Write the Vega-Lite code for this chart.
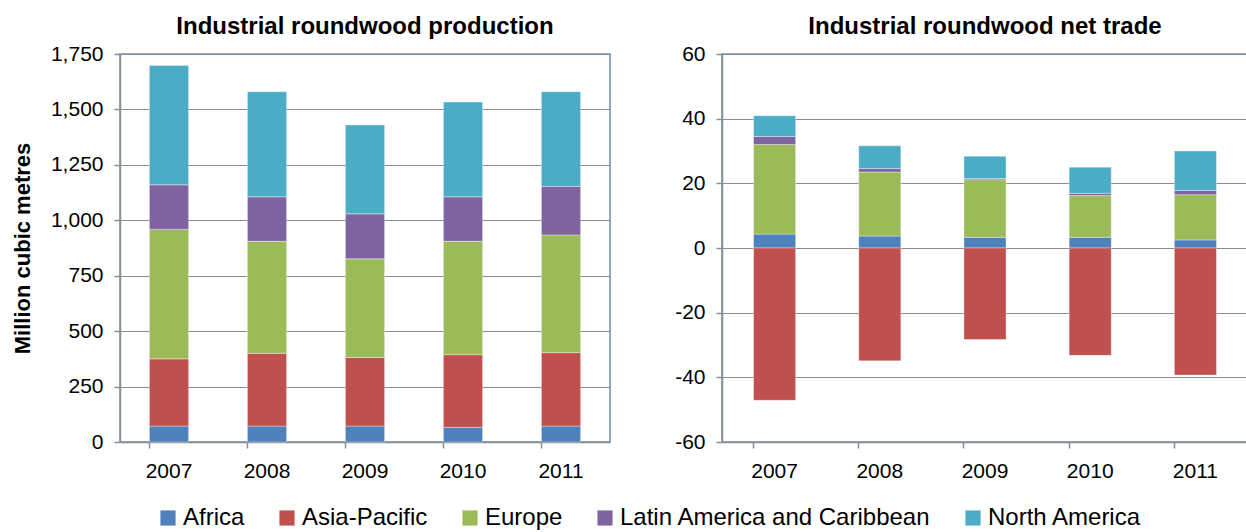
{
  "$schema": "https://vega.github.io/schema/vega-lite/v6.json",
  "background": "white",
  "padding": {"left": 10, "top": 14, "right": 0, "bottom": 0},
  "spacing": 62,
  "datasets": {
    "prod": [
      {"year": "2007", "region": "Africa", "value": 72},
      {"year": "2007", "region": "Asia-Pacific", "value": 303},
      {"year": "2007", "region": "Europe", "value": 584},
      {"year": "2007", "region": "Latin America and Caribbean", "value": 201},
      {"year": "2007", "region": "North America", "value": 538},
      {"year": "2008", "region": "Africa", "value": 72},
      {"year": "2008", "region": "Asia-Pacific", "value": 328},
      {"year": "2008", "region": "Europe", "value": 505},
      {"year": "2008", "region": "Latin America and Caribbean", "value": 201},
      {"year": "2008", "region": "North America", "value": 474},
      {"year": "2009", "region": "Africa", "value": 72},
      {"year": "2009", "region": "Asia-Pacific", "value": 309},
      {"year": "2009", "region": "Europe", "value": 445},
      {"year": "2009", "region": "Latin America and Caribbean", "value": 203},
      {"year": "2009", "region": "North America", "value": 401},
      {"year": "2010", "region": "Africa", "value": 66},
      {"year": "2010", "region": "Asia-Pacific", "value": 328},
      {"year": "2010", "region": "Europe", "value": 511},
      {"year": "2010", "region": "Latin America and Caribbean", "value": 201},
      {"year": "2010", "region": "North America", "value": 427},
      {"year": "2011", "region": "Africa", "value": 72},
      {"year": "2011", "region": "Asia-Pacific", "value": 331},
      {"year": "2011", "region": "Europe", "value": 531},
      {"year": "2011", "region": "Latin America and Caribbean", "value": 219},
      {"year": "2011", "region": "North America", "value": 427}
    ],
    "trade": [
      {"year": "2007", "region": "Africa", "value": 4.3},
      {"year": "2007", "region": "Asia-Pacific", "value": -47.1},
      {"year": "2007", "region": "Europe", "value": 27.7},
      {"year": "2007", "region": "Latin America and Caribbean", "value": 2.5},
      {"year": "2007", "region": "North America", "value": 6.4},
      {"year": "2008", "region": "Africa", "value": 3.7},
      {"year": "2008", "region": "Asia-Pacific", "value": -34.9},
      {"year": "2008", "region": "Europe", "value": 19.8},
      {"year": "2008", "region": "Latin America and Caribbean", "value": 1.1},
      {"year": "2008", "region": "North America", "value": 7.0},
      {"year": "2009", "region": "Africa", "value": 3.3},
      {"year": "2009", "region": "Asia-Pacific", "value": -28.3},
      {"year": "2009", "region": "Europe", "value": 17.8},
      {"year": "2009", "region": "Latin America and Caribbean", "value": 0.4},
      {"year": "2009", "region": "North America", "value": 6.9},
      {"year": "2010", "region": "Africa", "value": 3.3},
      {"year": "2010", "region": "Asia-Pacific", "value": -33.2},
      {"year": "2010", "region": "Europe", "value": 12.9},
      {"year": "2010", "region": "Latin America and Caribbean", "value": 0.7},
      {"year": "2010", "region": "North America", "value": 8.1},
      {"year": "2011", "region": "Africa", "value": 2.5},
      {"year": "2011", "region": "Asia-Pacific", "value": -39.3},
      {"year": "2011", "region": "Europe", "value": 14.0},
      {"year": "2011", "region": "Latin America and Caribbean", "value": 1.3},
      {"year": "2011", "region": "North America", "value": 12.2}
    ]
  },
  "config": {
    "font": "Liberation Sans",
    "view": {"stroke": "#6E8DB8", "strokeWidth": 1.5},
    "title": {"fontSize": 24, "fontWeight": "bold", "color": "black", "offset": 4, "anchor": "middle"},
    "axis": {
      "labelFont": "Liberation Sans", "labelFontSize": 21, "labelColor": "black",
      "titleFont": "Liberation Sans", "titleFontSize": 22, "titleFontWeight": "bold", "titleColor": "black",
      "domainColor": "#868E96", "domainWidth": 1.5, "tickColor": "#868E96", "tickWidth": 1.5, "tickSize": 6,
      "gridColor": "#8C8C8C", "gridWidth": 1.2, "labelPadding": 11
    },
    "legend": {
      "orient": "none", "legendX": 36, "legendY": 452, "direction": "horizontal", "title": null,
      "labelFont": "Liberation Sans", "labelFontSize": 24, "labelColor": "black",
      "symbolType": "square", "symbolSize": 230, "symbolStrokeWidth": 0,
      "columnPadding": 30, "labelOffset": 3, "labelLimit": 500
    }
  },
  "resolve": {"scale": {"color": "shared"}},
  "hconcat": [
    {
      "title": "Industrial roundwood production",
      "width": 490, "height": 388,
      "data": {"name": "prod"},
      "mark": {"type": "bar", "stroke": "white", "strokeWidth": 0.6, "strokeOpacity": 0.6},
      "encoding": {
        "x": {"field": "year", "type": "nominal", "title": null,
              "scale": {"paddingInner": 0.6, "paddingOuter": 0.3},
              "axis": {"labelAngle": 0, "bandPosition": 0, "grid": false, "labelPadding": 12}},
        "y": {"field": "value", "type": "quantitative", "aggregate": "sum", "stack": "zero",
              "title": "Million cubic metres",
              "scale": {"domain": [0, 1750], "nice": false},
              "axis": {"values": [0, 250, 500, 750, 1000, 1250, 1500, 1750], "format": ",.0f", "titlePadding": 16, "grid": true}},
        "color": {"field": "region", "type": "nominal",
                  "scale": {"domain": ["Africa", "Asia-Pacific", "Europe", "Latin America and Caribbean", "North America"],
                            "range": ["#4F81BD", "#C0504D", "#9BBB59", "#8064A2", "#4BACC6"]}},
        "order": {"field": "region", "sort": "ascending"}
      }
    },
    {
      "title": "Industrial roundwood net trade",
      "width": 526, "height": 388,
      "data": {"name": "trade"},
      "mark": {"type": "bar", "stroke": "white", "strokeWidth": 0.6, "strokeOpacity": 0.6},
      "encoding": {
        "x": {"field": "year", "type": "nominal", "title": null,
              "scale": {"paddingInner": 0.6, "paddingOuter": 0.3},
              "axis": {"labelAngle": 0, "bandPosition": 0, "grid": false, "labelPadding": 12}},
        "y": {"field": "value", "type": "quantitative", "aggregate": "sum", "stack": "zero",
              "title": null,
              "scale": {"domain": [-60, 60], "nice": false},
              "axis": {"values": [-60, -40, -20, 0, 20, 40, 60], "labelExpr": "'' + datum.value", "grid": true}},
        "color": {"field": "region", "type": "nominal",
                  "scale": {"domain": ["Africa", "Asia-Pacific", "Europe", "Latin America and Caribbean", "North America"],
                            "range": ["#4F81BD", "#C0504D", "#9BBB59", "#8064A2", "#4BACC6"]}},
        "order": {"field": "region", "sort": "ascending"}
      }
    }
  ]
}
